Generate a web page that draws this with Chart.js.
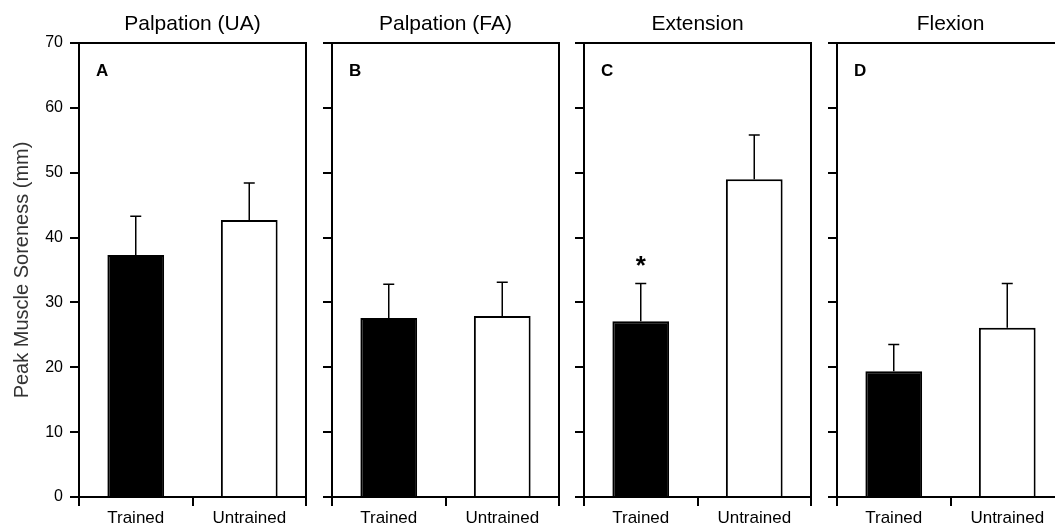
<!DOCTYPE html>
<html>
<head>
<meta charset="utf-8">
<script src="https://cdn.jsdelivr.net/npm/chart.js@4.4.1/dist/chart.umd.min.js"></script>
<style>
  html, body { margin: 0; padding: 0; background: #fff; }
  #wrap { position: relative; width: 1055px; height: 529px; overflow: hidden; }
  #wrap canvas { position: absolute; top: 0; }
</style>
</head>
<body>
<div id="wrap"></div>
<script>
const categories = ['Trained', 'Untrained'];
const panelTitles = ['Palpation (UA)', 'Palpation (FA)', 'Extension', 'Flexion'];
const panelLetters = ['A', 'B', 'C', 'D'];
const trainedMean = [37.3, 27.6, 27.1, 19.4];
const trainedSD = [6.0, 5.2, 5.8, 4.1];
const untrainedMean = [42.7, 27.9, 49.0, 26.1];
const untrainedSD = [5.7, 5.2, 6.8, 6.8];
const significant = [false, false, true, false];
const yTicks = [0, 10, 20, 30, 40, 50, 60, 70];

const font = 'Liberation Sans, Arial, Helvetica, sans-serif';
const areaLeft = [79, 332, 584, 837];
const areaWidth = 227;

// error bars (upward only), panel letter, significance star
const extras = {
  id: 'extras',
  afterDatasetsDraw(chart, args, opts) {
    const ctx = chart.ctx;
    const y = chart.scales.y;
    const meta = chart.getDatasetMeta(0);
    const ds = chart.data.datasets[0];
    ctx.save();
    ctx.strokeStyle = '#000';
    ctx.lineWidth = 1.5;
    meta.data.forEach((bar, i) => {
      const top = y.getPixelForValue(ds.data[i] + ds.sd[i]);
      ctx.beginPath();
      ctx.moveTo(bar.x, bar.y);
      ctx.lineTo(bar.x, top);
      ctx.moveTo(bar.x - 5.5, top);
      ctx.lineTo(bar.x + 5.5, top);
      ctx.stroke();
      if (ds.star[i]) {
        ctx.fillStyle = '#000';
        ctx.font = 'bold 26px ' + font;
        ctx.textAlign = 'center';
        ctx.textBaseline = 'alphabetic';
        ctx.fillText('*', bar.x, top - 10);
      }
    });
    const a = chart.chartArea;
    ctx.fillStyle = '#000';
    ctx.font = 'bold 17px ' + font;
    ctx.textAlign = 'left';
    ctx.textBaseline = 'alphabetic';
    ctx.fillText(opts.letter, a.left + 17, a.top + 33);
    ctx.restore();
  }
};

function makePanel(p) {
  const first = p === 0;
  const yWidth = first ? areaLeft[0] : 12;
  const canvas = document.createElement('canvas');
  const w = yWidth + areaWidth + 6;
  canvas.width = w;
  canvas.height = 529;
  canvas.style.left = (areaLeft[p] - yWidth) + 'px';
  document.getElementById('wrap').appendChild(canvas);

  new Chart(canvas, {
    type: 'bar',
    data: {
      labels: categories,
      datasets: [{
        data: [trainedMean[p], untrainedMean[p]],
        sd: [trainedSD[p], untrainedSD[p]],
        star: [significant[p], false],
        backgroundColor: ['#000', '#fff'],
        borderColor: '#000',
        borderWidth: 2,
        barPercentage: 0.5,
        categoryPercentage: 1
      }]
    },
    options: {
      responsive: false,
      animation: false,
      layout: { padding: { left: 0, right: 6, top: 0, bottom: 0 } },
      plugins: {
        legend: { display: false },
        tooltip: { enabled: false },
        extras: { letter: panelLetters[p] }
      },
      scales: {
        x: {
          position: 'bottom',
          grid: { display: true, drawOnChartArea: false, color: '#000', lineWidth: 2, tickLength: 9, offset: true },
          border: { display: true, color: '#000', width: 2 },
          ticks: { color: '#000', font: { family: font, size: 17 }, padding: 2 },
          afterFit(s) { s.height = 32; }
        },
        x2: {
          position: 'top',
          grid: { display: false },
          border: { display: true, color: '#000', width: 2 },
          ticks: { display: false },
          title: { display: true, text: panelTitles[p], color: '#000', font: { family: font, size: 21 }, padding: { top: 12, bottom: 0 } },
          afterFit(s) { s.height = 43; }
        },
        y: {
          position: 'left',
          min: 0,
          max: 70,
          afterBuildTicks(s) { s.ticks = yTicks.map(v => ({ value: v })); },
          grid: { display: true, drawOnChartArea: false, color: '#000', lineWidth: 2, tickLength: 9 },
          border: { display: true, color: '#000', width: 2 },
          ticks: { display: first, color: '#000', font: { family: font, size: 16 }, padding: 7 },
          title: { display: first, text: 'Peak Muscle Soreness (mm)', color: '#333', font: { family: font, size: 20 }, padding: { top: 10, bottom: 0 } },
          afterFit(s) { s.width = yWidth; }
        },
        y2: {
          position: 'right',
          grid: { display: false },
          border: { display: true, color: '#000', width: 2 },
          ticks: { display: false },
          afterFit(s) { s.width = 0; }
        }
      }
    },
    plugins: [extras]
  });
}

for (let p = 0; p < panelTitles.length; p++) makePanel(p);
</script>
</body>
</html>
